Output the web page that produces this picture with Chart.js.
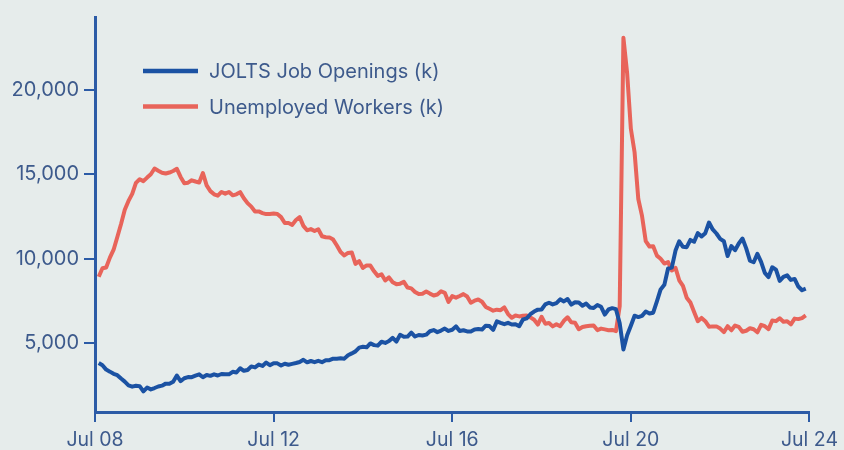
<!DOCTYPE html>
<html>
<head>
<meta charset="utf-8">
<script src="https://cdn.jsdelivr.net/npm/chart.js@4/dist/chart.umd.min.js"></script>
<style>
  html, body { margin: 0; padding: 0; background: #e6eceb; }
  #wrap { width: 844px; height: 450px; }
</style>
</head>
<body>
<div id="wrap"><canvas id="chart" width="844" height="450"></canvas></div>
<script>
// x axis: months counted from Jul 2008
const xTickValues = [0, 48, 96, 144, 192];
const xTickLabels = ['Jul 08', 'Jul 12', 'Jul 16', 'Jul 20', 'Jul 24'];
const yTickValues = [5000, 10000, 15000, 20000];

// both series start one month after the Jul 08 tick (monthly, through May 24)
const seriesStart = 1;

const jobOpenings = [
  3830, 3700, 3440, 3320, 3190, 3110,
  2910, 2730, 2510, 2430, 2480, 2460, 2150, 2380, 2270, 2350, 2440, 2490,
  2610, 2600, 2720, 3090, 2760, 2930, 3000, 2990, 3080, 3160, 2990, 3120,
  3070, 3160, 3090, 3180, 3160, 3160, 3310, 3270, 3520, 3370, 3420, 3630,
  3570, 3740, 3660, 3860, 3700, 3820, 3810, 3680, 3790, 3730, 3780, 3830,
  3890, 4020, 3870, 3950, 3880, 3960, 3880, 4000, 4000, 4090, 4090, 4110,
  4090, 4290, 4400, 4520, 4740, 4790, 4760, 4990, 4890, 4860, 5090, 5020,
  5130, 5320, 5100, 5500, 5390, 5400, 5630, 5400, 5490, 5460, 5510, 5710,
  5780, 5660, 5750, 5870, 5730, 5800, 6000, 5730, 5770, 5700, 5700, 5820,
  5840, 5810, 6040, 6020, 5790, 6300, 6210, 6130, 6210, 6110, 6130, 6010,
  6410, 6470, 6720, 6880, 6990, 7000, 7300, 7400, 7300, 7380, 7600, 7480,
  7620, 7290, 7430, 7420, 7220, 7350, 7120, 7090, 7270, 7160, 6700, 7000,
  7080, 7020, 6180, 4630, 5470, 6040, 6630, 6550, 6620, 6880, 6760, 6810,
  7480, 8190, 8460, 9430, 9480, 10490, 11040, 10710, 10690, 11120, 11010, 11520,
  11330, 11520, 12150, 11740, 11500, 11180, 11040, 10170, 10750, 10510, 10910, 11200,
  10620, 9890, 9800, 10300, 9820, 9170, 8920, 9500, 9360, 8690, 8930, 9020,
  8750, 8810, 8360, 8140, 8230
];

const unemployed = [
  8940, 9440, 9490, 10070, 10540, 11290,
  12060, 12900, 13430, 13850, 14500, 14710, 14600, 14810, 15010, 15350, 15220, 15100,
  15050, 15110, 15200, 15330, 14850, 14470, 14510, 14650, 14580, 14520, 15080, 14350,
  14010, 13820, 13740, 13960, 13860, 13960, 13760, 13820, 13950, 13590, 13300, 13090,
  12800, 12810, 12710, 12650, 12660, 12690, 12660, 12470, 12120, 12120, 12010, 12300,
  12470, 11950, 11690, 11760, 11650, 11750, 11340, 11280, 11270, 11140, 10790, 10400,
  10200, 10350, 10380, 9700, 9860, 9460, 9610, 9600, 9260, 8990, 9090, 8720,
  8900, 8610, 8500, 8530, 8640, 8300, 8250, 8040, 7920, 7930, 8060, 7940,
  7830, 7890, 8080, 7990, 7450, 7790, 7700, 7800, 7910, 7770, 7400, 7520,
  7590, 7460, 7150, 7040, 6930, 6990, 6960, 7120, 6730, 6510, 6640, 6590,
  6630, 6650, 6530, 6390, 6110, 6570, 6160, 6200, 6000, 6130, 6010, 6330,
  6540, 6240, 6220, 5830, 5960, 6010, 6040, 6050, 5780, 5870, 5820, 5770,
  5790, 5720, 7190, 23090, 20990, 17700, 16310, 13540, 12540, 11050, 10730, 10740,
  10190, 10000, 9720, 9810, 9310, 9460, 8730, 8400, 7700, 7410, 6850, 6310,
  6500, 6310, 5980, 6000, 6000, 5870, 5660, 6010, 5770, 6050, 5970, 5680,
  5740, 5890, 5830, 5650, 6090, 6010, 5840, 6350, 6310, 6480, 6280, 6310,
  6120, 6460, 6430, 6490, 6650
];

const seriesLabels = ['JOLTS Job Openings (k)', 'Unemployed Workers (k)'];
const blue = '#1b52a3';
const red = '#e8645a';
const axisColor = '#2c5ba6';
const textColor = '#3d5a8c';
const fontFamily = 'Inter, "Noto Sans", sans-serif';

const toPoints = (values) => values.map((v, i) => ({ x: i + seriesStart, y: v }));

// legend drawn inside the plot, top left
const insideLegend = {
  id: 'insideLegend',
  afterDraw(chart) {
    const ctx = chart.ctx;
    ctx.save();
    ctx.font = '20px ' + fontFamily;
    ctx.textBaseline = 'middle';
    chart.data.datasets.forEach((ds, i) => {
      const y = 71 + i * 35.5;
      ctx.strokeStyle = ds.borderColor;
      ctx.lineWidth = 4.5;
      ctx.beginPath();
      ctx.moveTo(143, y);
      ctx.lineTo(198, y);
      ctx.stroke();
      ctx.fillStyle = textColor;
      ctx.fillText(ds.label, 209, y + 1);
    });
    ctx.restore();
  }
};

new Chart(document.getElementById('chart').getContext('2d'), {
  type: 'line',
  data: {
    datasets: [
      {
        label: seriesLabels[0],
        data: toPoints(jobOpenings),
        borderColor: blue,
        borderWidth: 4,
        pointRadius: 0,
        tension: 0,
        borderJoinStyle: 'round',
      },
      {
        label: seriesLabels[1],
        data: toPoints(unemployed),
        borderColor: red,
        borderWidth: 4,
        pointRadius: 0,
        tension: 0,
        borderJoinStyle: 'round',
      },
    ],
  },
  options: {
    responsive: false,
    animation: false,
    layout: { padding: { left: 0, right: 33, top: 13, bottom: 0 } },
    plugins: {
      legend: { display: false },
      tooltip: { enabled: false },
    },
    scales: {
      x: {
        type: 'linear',
        min: 0,
        max: 192,
        afterBuildTicks: (scale) => {
          scale.ticks = xTickValues.map(v => ({ value: v }));
        },
        afterFit: (scale) => { scale.height = 38; },
        ticks: {
          callback: (v, i) => xTickLabels[i],
          color: textColor,
          font: { family: fontFamily, size: 19.5 },
          maxRotation: 0,
          padding: 6,
        },
        grid: {
          drawOnChartArea: false,
          drawTicks: true,
          tickLength: 10,
          color: axisColor,
          lineWidth: 2,
        },
        border: { color: axisColor, width: 3 },
      },
      y: {
        min: 930,
        max: 24320,
        afterBuildTicks: (scale) => {
          scale.ticks = yTickValues.map(v => ({ value: v }));
        },
        afterFit: (scale) => { scale.width = 95; },
        ticks: {
          callback: (v) => v.toLocaleString('en-US'),
          color: textColor,
          font: { family: fontFamily, size: 20 },
          padding: 5,
        },
        grid: {
          drawOnChartArea: false,
          drawTicks: true,
          tickLength: 11,
          color: axisColor,
          lineWidth: 2,
        },
        border: { color: axisColor, width: 3 },
      },
    },
  },
  plugins: [insideLegend],
});
</script>
</body>
</html>
